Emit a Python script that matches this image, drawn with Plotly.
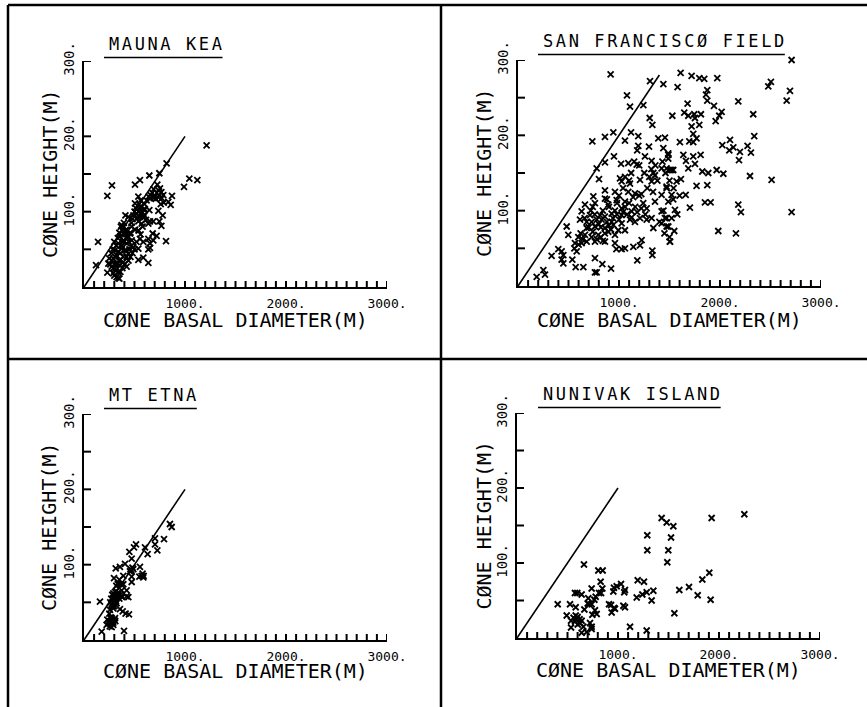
import plotly.graph_objects as go

# ---------------- data (cone basal diameter m, cone height m) ----------------
mauna_kea = [(1214,188),(1043,144),(1122,142),(990,133),(818,164),(746,151),(647,148),(554,142),(505,136),
    (277,135),(231,121),(139,60),(119,29),(231,19),(241,31),(812,61),(637,32),(538,36),(587,39),(871,121),
    (858,109),(835,113),(785,122),(752,131),(726,136),(766,126),(660,118),(690,118),(736,119),(647,102),
    (736,101),(779,95),(746,87),(686,87),(766,81),(653,87),(680,71),(719,68),(637,64),(653,58),(686,62),
    (637,50),(653,52),(587,60),(554,64),(538,51),(505,111),(554,105),(571,100),(538,100),(587,94),(554,93),
    (571,84),(538,87),(439,93),(472,80),(505,76),(455,71),(422,76),(389,80),(373,82),(439,67),(472,62),
    (488,53),(422,58),(389,62),(356,67),(340,58),(373,51),(406,49),(439,44),(422,40),(389,40),(340,47),
    (307,49),(323,42),(356,36),(290,38),(323,31),(356,29),(389,33),(422,27),(307,24),(340,20),(323,13),
    (350,11),(274,27),(290,18),(538,120),(561,107),(604,103),(587,92),(614,89),(637,84),
    (330,30),(345,35),(360,45),(375,55),(390,60),(400,70),(410,75),(420,70),(430,65),(445,60),(460,72),
    (470,85),(480,90),(490,95),(500,100),(510,105),(520,97),(530,92),(545,110),(560,115),(575,98),(590,103),
    (600,110),(620,115),(640,120),(660,122),(675,125),(690,130),(700,120),(710,117),(720,125),(740,128),
    (760,110),(770,118),(790,112),(300,30),(310,40),(320,55),(335,65),(350,72),(365,80),(380,75),(395,85),
    (410,95),(300,15),(315,22),(290,25),(280,35),(270,45),(285,50),(300,60),(260,30),(250,38),(340,12),
    (360,20),(380,25),(400,30),(420,48),(450,50),(470,55),(480,45),(500,50),(520,60),(540,75),(560,70),
    (580,80),(600,95),(440,35),(460,40)]

san_francisco = [(917,281),(1307,272),(1439,268),(1528,226),(1079,253),(1109,238),(1241,240),(1304,223),
    (1330,214),(736,192),(861,198),(944,204),(1059,193),(1119,204),(1191,199),(1191,186),(1297,185),
    (1389,196),(1455,197),(1439,183),(779,156),(861,164),(950,172),(1020,162),(1092,163),(1175,161),
    (1257,172),(1323,166),(1422,156),(1488,174),(1521,154),(802,142),(1010,143),(1026,139),(1109,136),
    (1208,141),(1323,139),(1356,147),(861,127),(960,125),(1092,125),(1158,123),(1221,122),(1337,125),
    (1472,130),(746,119),(861,116),(977,114),(1059,112),(1356,112),(1422,121),(663,108),(762,110),
    (894,108),(1026,103),(1125,99),(1221,103),(1488,112),(630,99),(713,94),(812,94),(927,96),(1026,94),
    (1125,91),(1274,103),(1422,99),(1521,90),(614,88),(729,85),(828,88),(927,85),(1026,83),(1109,88),
    (1208,90),(1323,90),(1455,90),(680,77),(762,79),(861,77),(944,81),(993,74),(1158,85),(1274,88),
    (1422,83),(482,79),(663,68),(729,65),(795,68),(894,72),(960,68),(1059,74),(1340,77),(1472,79),
    (498,68),(597,65),(564,57),(630,57),(680,59),(762,59),(861,59),(960,57),(1059,50),(1142,52),(1208,54),
    (1224,61),(1505,59),(558,50),(581,46),(399,49),(432,46),(449,41),(432,35),(449,30),(333,40),(538,35),
    (571,25),(647,25),(762,37),(835,29),(762,18),(921,23),(974,49),(1026,49),(1330,47),(1330,41),(1181,34),
    (251,21),(185,12),(267,15),(779,18),
    (2709,300),(1610,283),(1719,279),(1795,276),(1844,275),(1973,276),(1580,264),(2504,271),(2478,265),
    (2693,259),(2660,246),(1874,260),(1861,254),(1874,246),(1679,242),(2181,245),(1940,239),(2016,231),
    (1993,226),(1957,219),(1646,230),(1686,226),(1745,228),(1811,228),(1752,223),(1719,212),(1795,214),
    (2329,228),(1735,202),(1768,196),(1696,192),(1735,191),(1603,191),(2339,199),(2099,194),(2023,187),
    (2132,184),(2092,180),(2197,178),(2188,167),(2273,186),(2306,177),(1637,174),(1735,172),(1808,174),
    (1663,166),(1686,156),(1752,162),(1825,152),(1884,150),(1967,154),(2033,149),(2297,146),(2511,141),
    (1488,176),(1488,169),(1504,154),(1471,156),(1537,154),(1570,139),(1613,142),(1768,133),(1874,134),
    (1471,132),(1521,121),(1537,115),(1660,121),(1851,111),(1907,111),(2181,108),(2207,98),(2709,98),
    (1554,101),(1577,95),(1702,104),(1471,90),(1488,79),(1547,73),(1504,59),(1983,73),(2158,70),
    (720,100),(740,105),(760,95),(780,88),(800,82),(820,78),(840,100),(860,92),(880,85),(900,80),(920,75),
    (940,90),(960,100),(980,95),(1000,88),(1040,98),(1060,105),(1080,95),(1100,110),(1140,118),(1160,105),
    (1180,98),(1200,120),(1240,110),(1260,95),(1280,130),(1300,145),(1320,155),(1340,150),(1360,160),
    (1380,140),(1100,140),(1120,150),(1060,145),(1040,130),(1000,120),(980,110),(900,105),(880,115),
    (860,70),(840,60),(820,65),(780,62),(740,72),(700,78),(680,85),(660,90),(640,62),(620,70),(600,55),
    (1150,165),(1200,160),(1250,150),(1180,180),(1430,165),(1460,150),(1500,140),(1540,130),(1600,120),
    (1440,100),(1400,85),(1450,70),(1500,65)]

mt_etna = [(851,154),(868,150),(792,134),(703,135),(703,127),(726,119),(630,114),(604,123),(515,127),
    (495,123),(449,117),(472,108),(406,101),(356,97),(314,95),(554,97),(488,94),(571,85),(587,83),(548,84),
    (472,84),(455,91),(389,85),(297,82),(389,74),(472,77),(366,74),(340,74),(422,66),(422,58),(439,57),
    (307,64),(330,58),(290,55),(317,52),(274,46),(290,42),(257,40),(158,51),(356,41),(383,38),(412,35),
    (445,34),(251,35),(231,27),(274,29),(307,29),(257,24),(224,20),(290,20),(274,17),(175,11),(396,12),
    (323,49),(350,55),(300,45),(373,66),
    (270,55),(280,60),(290,62),(300,58),(310,60),(320,65),(330,62),(340,60),(260,50),(275,48),(285,45),
    (295,50),(305,48),(315,55),(250,25),(260,22),(270,28),(280,25),(290,23),(300,27),(310,25),(240,22),
    (255,18),(265,30),(320,72),(335,75),(350,80),(470,92),(480,96),(460,94),(360,60),(370,58),(380,57),
    (580,88),(590,85)]

nunivak_island = [(2251,165),(1927,160),(1432,160),(1482,154),(1548,149),(1290,137),(1525,134),(1290,117),
    (1498,117),(1488,101),(663,98),(805,90),(848,90),(1904,87),(1835,78),(1195,77),(1257,75),(828,75),
    (1030,72),(987,69),(960,67),(1703,68),(1607,64),(1350,63),(1284,61),(1241,58),(1185,54),(1069,64),
    (1062,61),(954,62),(845,66),(832,60),(812,60),(739,66),(779,55),(766,51),(706,53),(713,45),(739,45),
    (1789,57),(1917,51),(1333,50),(597,60),(574,60),(640,58),(700,46),(403,45),(525,45),(581,41),(667,38),
    (772,37),(789,32),(911,45),(931,44),(960,40),(970,39),(937,34),(1053,43),(1069,41),(1558,33),(492,30),
    (535,23),(581,30),(591,25),(574,22),(601,18),(535,14),(640,23),(657,15),(723,20),(739,15),(739,12),
    (690,8),(640,7),(1119,15),(1284,10),(746,31),(624,20),(560,27),(600,28),(620,25)]

panel_titles = ["MAUNA KEA", "SAN FRANCISCØ FIELD", "MT ETNA", "NUNIVAK ISLAND"]
panel_data = [mauna_kea, san_francisco, mt_etna, nunivak_island]
# reference line H/W = 0.2 drawn in each panel
ref_line_x = [[0, 1000], [0, 1400], [0, 1000], [0, 1000]]
ref_line_y = [[0, 200], [0, 280], [0, 200], [0, 200]]

x_major = [1000, 2000, 3000]
x_major_text = ["1000.", "2000.", "3000."]
x_minor_step = 100
y_major = [100, 200, 300]
y_major_text = ["100.", "200.", "300."]
y_minor_step = 50
x_title = "CØNE BASAL DIAMETER(M)"
y_title = "CØNE HEIGHT(M)"
X_MAX, Y_MAX = 3000, 300

# ---------------- layout geometry (pixels) ----------------
W, H = 867, 707
def fx(p): return p / W
def fy(p): return 1 - p / H

boxes = [(84, 387, 61, 287), (518, 821, 60, 286), (84, 387, 414, 640), (517, 820, 413, 638)]
title_pos = [(107, 56), (541, 53), (107, 407), (541, 406)]
xtitle_y = [320, 320, 671, 670]
ytitle_x = [50, 484, 49, 483]

FONT = "DejaVu Sans Mono"
INK = "black"
TITLE_SIZE, TITLE_SPACING = 17, 2.6
TICK_IN, TICK_OUT = 6, 6   # tick lengths in pixels

fig = go.Figure()
layout = dict(template="none", width=W, height=H, autosize=False,
              margin=dict(l=0, r=0, t=0, b=0, pad=0, autoexpand=False),
              paper_bgcolor="white", plot_bgcolor="rgba(0,0,0,0)", showlegend=False)
annotations, shapes = [], []

for i in range(4):
    n = i + 1
    x0, x1, y0, y1 = boxes[i]
    xs = [p[0] for p in panel_data[i]]
    ys = [p[1] for p in panel_data[i]]
    xa, ya = ("x" if n == 1 else f"x{n}"), ("y" if n == 1 else f"y{n}")
    xk, yk = ("xaxis" if n == 1 else f"xaxis{n}"), ("yaxis" if n == 1 else f"yaxis{n}")
    fig.add_trace(go.Scatter(x=xs, y=ys, mode="markers", xaxis=xa, yaxis=ya, cliponaxis=False,
                             marker=dict(symbol="x-thin", size=6, color=INK,
                                         line=dict(width=1.8, color=INK))))
    fig.add_trace(go.Scatter(x=ref_line_x[i], y=ref_line_y[i], mode="lines", xaxis=xa, yaxis=ya,
                             line=dict(color=INK, width=1.6)))

    # tick marks as line segments at the tick values (minor inward, major crossing the axis)
    x_per_px = X_MAX / (x1 - x0)
    y_per_px = Y_MAX / (y1 - y0)
    tx_, ty_ = [], []
    for v in range(x_minor_step, X_MAX + 1, x_minor_step):
        lo = -TICK_OUT * y_per_px if v in x_major else 0
        tx_ += [v, v, None]
        ty_ += [lo, TICK_IN * y_per_px, None]
    for v in range(y_minor_step, Y_MAX + 1, y_minor_step):
        lo = -TICK_OUT * x_per_px if v in y_major else 0
        tx_ += [lo, (TICK_IN + 1) * x_per_px, None]
        ty_ += [v, v, None]
    fig.add_trace(go.Scatter(x=tx_, y=ty_, mode="lines", xaxis=xa, yaxis=ya, cliponaxis=False,
                             hoverinfo="skip", connectgaps=False,
                             line=dict(color=INK, width=2)))

    layout[xk] = dict(domain=[fx(x0), fx(x1)], range=[0, X_MAX], anchor=ya,
                      showline=True, linewidth=2, linecolor=INK, ticks="",
                      tickmode="array", tickvals=x_major, ticktext=x_major_text,
                      ticklabelstandoff=3,
                      tickfont=dict(family=FONT, size=13, color=INK),
                      showgrid=False, zeroline=False, automargin=False, fixedrange=True)
    layout[yk] = dict(domain=[fy(y1), fy(y0)], range=[0, Y_MAX], anchor=xa,
                      showline=True, linewidth=2, linecolor=INK, ticks="",
                      tickmode="array", tickvals=y_major, ticktext=y_major_text, tickangle=-90,
                      ticklabelstandoff=2,
                      tickfont=dict(family=FONT, size=14, color=INK),
                      showgrid=False, zeroline=False, automargin=False, fixedrange=True)

    # panel title (underlined)
    tx, ty = title_pos[i]
    annotations.append(dict(text=f"<span style='letter-spacing:{TITLE_SPACING}px'>{panel_titles[i]}</span>",
                            xref="paper", yref="paper", x=fx(tx), y=fy(ty),
                            xanchor="left", yanchor="bottom", showarrow=False,
                            font=dict(family=FONT, size=TITLE_SIZE, color=INK)))
    tw = len(panel_titles[i]) * (TITLE_SIZE * 0.602 + TITLE_SPACING)
    shapes.append(dict(type="line", xref="paper", yref="paper", x0=fx(tx - 3), x1=fx(tx + tw),
                       y0=fy(ty + 1.5), y1=fy(ty + 1.5), line=dict(color=INK, width=1.6)))
    # axis titles
    annotations.append(dict(text=x_title, xref="paper", yref="paper", x=fx((x0 + x1) / 2),
                            y=fy(xtitle_y[i]), xanchor="center", yanchor="middle", showarrow=False,
                            font=dict(family=FONT, size=20, color=INK)))
    annotations.append(dict(text=y_title, xref="paper", yref="paper", x=fx(ytitle_x[i]),
                            y=fy((y0 + y1) / 2), xanchor="center", yanchor="middle", showarrow=False,
                            textangle=-90, font=dict(family=FONT, size=20, color=INK)))

# frame / divider lines
frame = [(8, 5, 867, 5), (8, 5, 8, 707), (441, 5, 441, 707), (8, 359, 867, 359)]
for (a, b, c, d) in frame:
    shapes.append(dict(type="line", xref="paper", yref="paper", x0=fx(a), y0=fy(b), x1=fx(c), y1=fy(d),
                       line=dict(color=INK, width=2.5)))

layout["annotations"] = annotations
layout["shapes"] = shapes
fig.update_layout(**layout)
fig.write_html("out.html", config={"displayModeBar": False})
